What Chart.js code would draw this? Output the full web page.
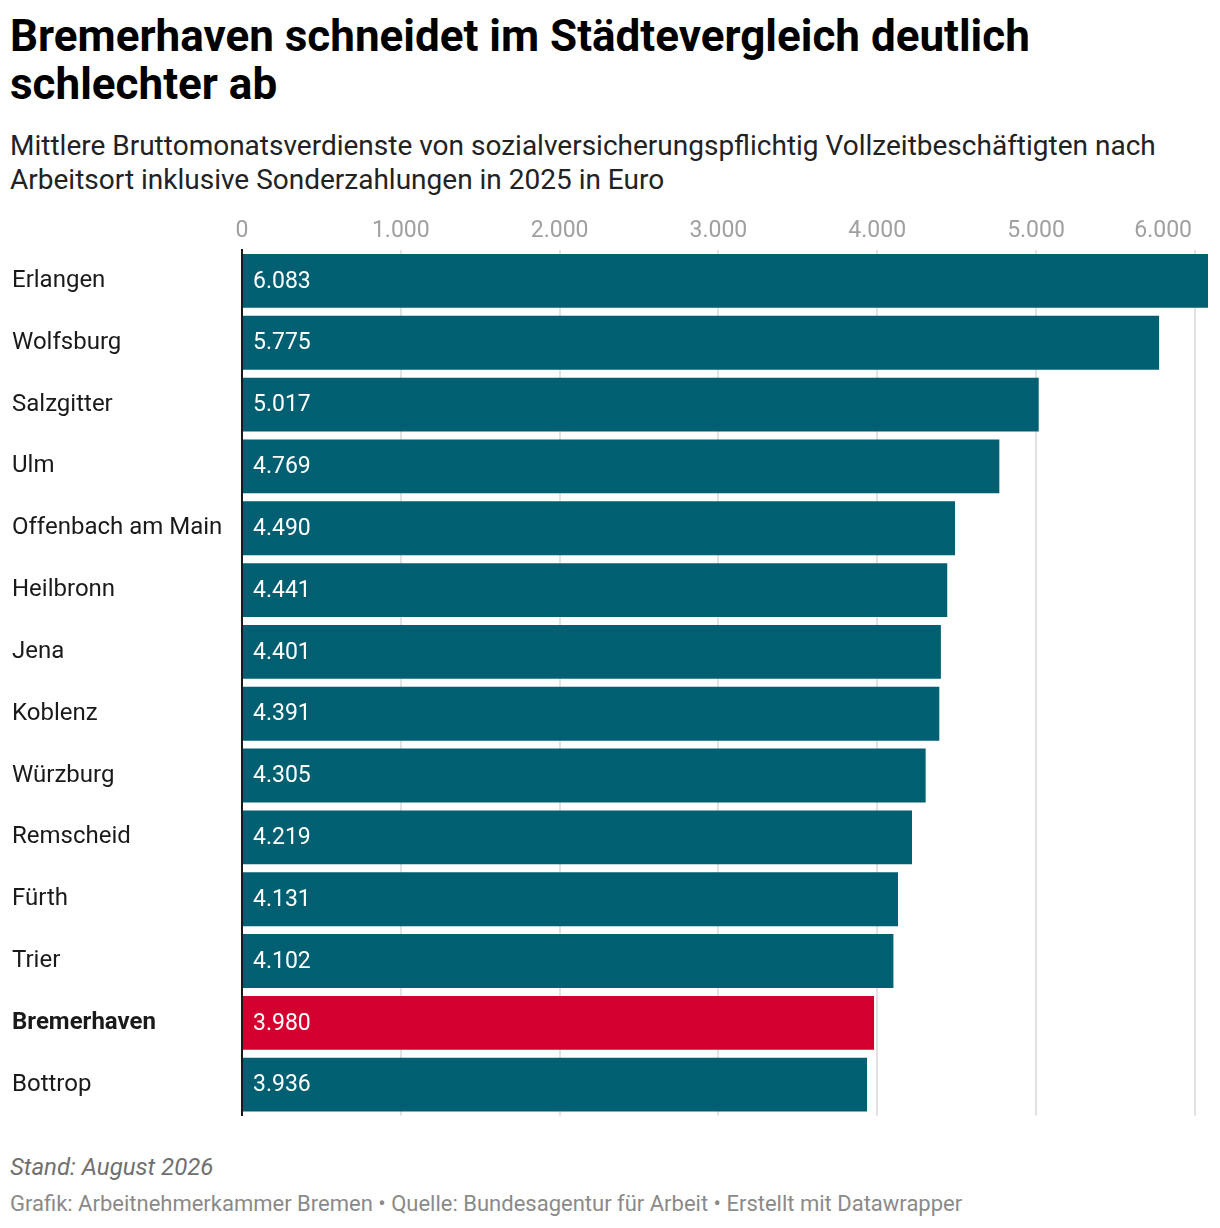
<!DOCTYPE html>
<html>
<head>
<meta charset="utf-8">
<script src="https://cdn.jsdelivr.net/npm/chart.js@4"></script>
<style>
  body { margin: 0; background: #fff; font-family: Roboto, sans-serif; }
  .wrap { position: relative; width: 1220px; height: 1228px; }
  h1 { position: absolute; left: 10px; top: 12px; margin: 0; width: 1060px;
       font-size: 44px; line-height: 48px; font-weight: 700; color: #000; }
  .sub { position: absolute; left: 10px; top: 129px; margin: 0; width: 1200px;
         font-size: 28px; line-height: 34px; color: #222; }
  .box { position: absolute; left: 0; top: 200px; width: 1220px; height: 930px; }
  .stand { position: absolute; left: 10px; top: 1153px; font-size: 24px; font-style: italic; color: #707070; }
  .src { position: absolute; left: 10px; top: 1191px; font-size: 22px; color: #8a8a8a; white-space: nowrap; }
</style>
</head>
<body>
<div class="wrap">
  <h1>Bremerhaven schneidet im Städtevergleich deutlich schlechter ab</h1>
  <p class="sub">Mittlere Bruttomonatsverdienste von sozialversicherungspflichtig Vollzeitbeschäftigten nach Arbeitsort inklusive Sonderzahlungen in 2025 in Euro</p>
  <div class="box"><canvas id="chart"></canvas></div>
  <div class="stand">Stand: August 2026</div>
  <div class="src">Grafik: Arbeitnehmerkammer Bremen • Quelle: Bundesagentur für Arbeit • Erstellt mit Datawrapper</div>
</div>
<script>
// data
const cities = ['Erlangen', 'Wolfsburg', 'Salzgitter', 'Ulm', 'Offenbach am Main', 'Heilbronn', 'Jena',
  'Koblenz', 'Würzburg', 'Remscheid', 'Fürth', 'Trier', 'Bremerhaven', 'Bottrop'];
const earnings = [6083, 5775, 5017, 4769, 4490, 4441, 4401, 4391, 4305, 4219, 4131, 4102, 3980, 3936];
const xTicks = [0, 1000, 2000, 3000, 4000, 5000, 6000];
const highlight = 'Bremerhaven';

const teal = '#015f72';
const red = '#d3002f';

function fmt(v) {
  return String(v).replace(/\B(?=(\d{3})+(?!\d))/g, '.');
}

// value labels inside bars
const valueLabels = {
  id: 'valueLabels',
  afterDatasetsDraw(chart) {
    const ctx = chart.ctx;
    const meta = chart.getDatasetMeta(0);
    ctx.save();
    ctx.font = '23px Roboto';
    ctx.fillStyle = '#fff';
    ctx.textAlign = 'left';
    ctx.textBaseline = 'middle';
    meta.data.forEach((bar, i) => {
      ctx.fillText(fmt(earnings[i]), bar.base + 10, bar.y + 1);
    });
    ctx.restore();
  }
};

// top axis labels, last one kept inside the chart
const topTicks = {
  id: 'topTicks',
  afterDraw(chart) {
    const ctx = chart.ctx;
    const x = chart.scales.x;
    ctx.save();
    ctx.font = '23px Roboto';
    ctx.fillStyle = '#a0a0a0';
    ctx.textBaseline = 'middle';
    ctx.textAlign = 'center';
    xTicks.forEach(v => {
      const label = fmt(v);
      const w = ctx.measureText(label).width;
      let px = x.getPixelForValue(v);
      const maxRight = chart.chartArea.right - 16;
      if (px + w / 2 > maxRight) px = maxRight - w / 2;
      ctx.fillText(label, px, 31);
    });
    ctx.restore();
  }
};

new Chart(document.getElementById('chart'), {
  type: 'bar',
  data: {
    labels: cities,
    datasets: [{
      data: earnings,
      backgroundColor: cities.map(c => c === highlight ? red : teal),
      barPercentage: 54 / 62,
      categoryPercentage: 1
    }]
  },
  options: {
    indexAxis: 'y',
    responsive: true,
    maintainAspectRatio: false,
    animation: false,
    layout: { padding: { top: 50, bottom: 12, left: 12, right: 12 } },
    plugins: { legend: { display: false }, tooltip: { enabled: false } },
    scales: {
      x: {
        position: 'top',
        min: 0,
        max: 6083,
        afterBuildTicks(s) { s.ticks = xTicks.map(v => ({ value: v })); },
        afterFit(s) { s.height = 0; },
        ticks: { display: false },
        grid: { color: '#e2e2e2', lineWidth: 2, drawTicks: false },
        border: { display: false }
      },
      y: {
        afterFit(s) { s.width = 230; },
        grid: { display: false },
        border: { display: true, color: '#1a1a1a', width: 2 },
        ticks: {
          crossAlign: 'far',
          color: '#1a1a1a',
          padding: 0,
          font: ctx => ({
            family: 'Roboto',
            size: 24,
            weight: cities[ctx.index] === highlight ? 'bold' : 'normal'
          })
        }
      }
    }
  },
  plugins: [valueLabels, topTicks]
});
</script>
</body>
</html>
